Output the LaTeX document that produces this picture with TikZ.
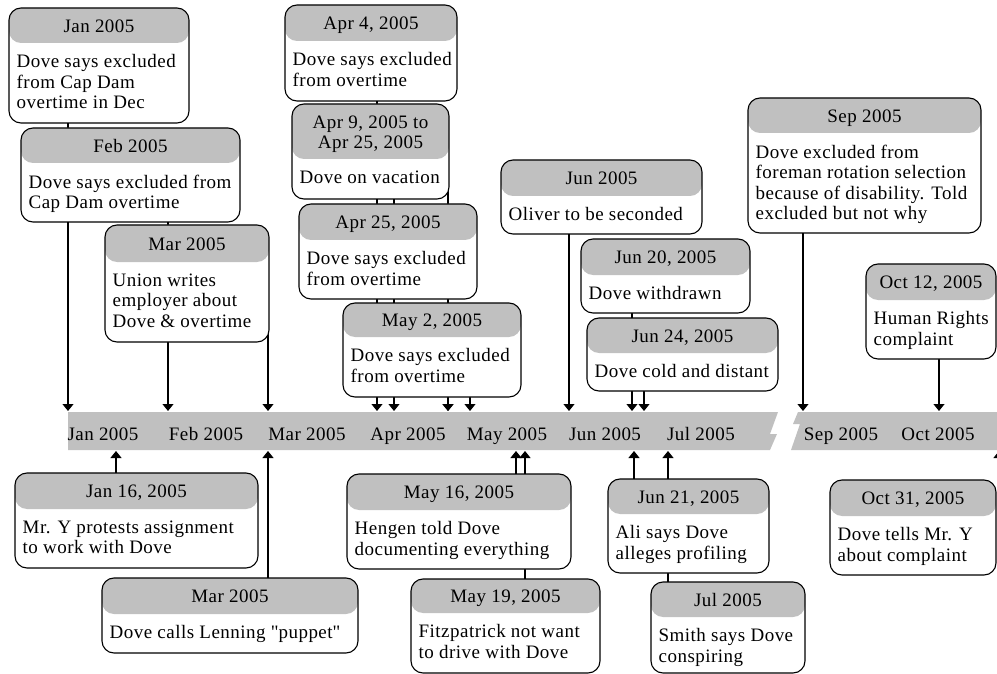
\documentclass[tikz,border=0pt]{standalone}
\usepackage{fontspec}
\setmainfont{Liberation Serif}[LetterSpace=2.5]
\usetikzlibrary{arrows.meta}
\pgfdeclarelayer{bg}
\pgfsetlayers{bg,main}
\definecolor{hdrgray}{RGB}{192,192,192}
\definecolor{bandgray}{RGB}{192,192,192}
\newcommand\strq{\XeTeXglyph\XeTeXcharglyph"22\relax}
\tikzset{
  evb/.style={draw=black, line width=1.1pt, rounded corners=12pt, fill=white, inner sep=0pt},
  ttl/.style={inner sep=0pt, anchor=north, align=center, font=\fontsize{19}{20.5}\selectfont},
  bdy/.style={inner sep=0pt, anchor=north west, align=left, font=\fontsize{19}{20.5}\selectfont},
  axl/.style={inner sep=0pt, anchor=base, font=\fontsize{19}{20.5}\selectfont},
  conn/.style={line width=1.2pt, -{Triangle[width=11pt,length=7pt]}},
}
% name, x1, y1, x2, y2, header bottom, title, body, title shift
\newcommand\evbox[9]{%
  \pgfmathsetmacro\evW{#4-#2}%
  \pgfmathsetmacro\evH{#5-#3}%
  \pgfmathsetmacro\evHH{#6-#3}%
  \pgfmathsetmacro\evCX{(#2+#4)/2}%
  \pgfmathsetmacro\evCY{(#3+#5)/2}%
  \pgfmathsetmacro\evTY{(#3+#6)/2+6.5-12.8+#9}%
  \pgfmathsetmacro\evBY{#6+24.5-13}%
  \pgfmathsetmacro\evBX{#2+7.5}%
  \node[evb, minimum width=\evW pt, minimum height=\evH pt,
    path picture={\fill[hdrgray] (path picture bounding box.north west) rectangle ([yshift=-\evHH pt]path picture bounding box.north east);}]
    (#1) at (\evCX,\evCY) {};
  \node[ttl] (#1-t) at (\evCX,\evTY) {#7};
  \node[bdy] (#1-b) at (\evBX,\evBY) {#8};
}
\begin{document}
\begin{tikzpicture}[x=1pt,y=-1pt]
\useasboundingbox (0,0) rectangle (997,674);

% top boxes
\evbox{jan}{9}{8}{189}{123}{43}{Jan 2005}{Dove says excluded\\from Cap Dam\\overtime in Dec}{0}
\evbox{feb}{21}{128}{240}{222}{163}{Feb 2005}{Dove says excluded from\\Cap Dam overtime}{0}
\evbox{mar}{105}{225}{269}{342}{262}{Mar 2005}{Union writes\\employer about\\Dove \& overtime}{0}
\evbox{apra}{285}{5}{457}{101}{41}{Apr 4, 2005}{Dove says excluded\\from overtime}{0}
\evbox{aprb}{292}{104}{449}{199}{159}{Apr 9, 2005 to\\Apr 25, 2005}{Dove on vacation}{-10}
\evbox{aprc}{299}{204}{477}{299}{240}{Apr 25, 2005}{Dove says excluded\\from overtime}{0}
\evbox{maya}{343}{303}{521}{397}{337}{May 2, 2005}{Dove says excluded\\from overtime}{0}
\evbox{juna}{501}{160}{702}{234}{196}{Jun 2005}{Oliver to be seconded}{0}
\evbox{junb}{581}{239}{750}{313}{275}{Jun 20, 2005}{Dove withdrawn}{0}
\evbox{junc}{587}{318}{778}{391}{353}{Jun 24, 2005}{Dove cold and distant}{0}
\evbox{sep}{748}{98}{981}{233}{133}{Sep 2005}{Dove excluded from\\foreman rotation selection\\because of disability. Told\\excluded but not why}{0}
\evbox{octa}{866}{264}{996}{359}{300}{Oct 12, 2005}{Human Rights\\complaint}{0}

% bottom boxes
\evbox{janb}{15}{473}{258}{568}{509}{Jan 16, 2005}{Mr. Y protests assignment\\to work with Dove}{0}
\evbox{marb}{102}{578}{358}{653}{614}{Mar 2005}{Dove calls Lenning \strq puppet\strq}{0}
\evbox{mayb}{347}{474}{571}{569}{510}{May 16, 2005}{Hengen told Dove\\documenting everything}{0}
\evbox{mayc}{411}{579}{600}{673}{613}{May 19, 2005}{Fitzpatrick not want\\to drive with Dove}{0}
\evbox{jund}{608}{479}{769}{573}{514}{Jun 21, 2005}{Ali says Dove\\alleges profiling}{0}
\evbox{jul}{651}{582}{805}{673}{617}{Jul 2005}{Smith says Dove\\conspiring}{0}
\evbox{octb}{830}{480}{996}{575}{516}{Oct 31, 2005}{Dove tells Mr. Y\\about complaint}{0}

% axis labels
\node[axl] (lJan) at (103,440) {Jan 2005};
\node[axl] (lFeb) at (206,440) {Feb 2005};
\node[axl] (lMar) at (307,440) {Mar 2005};
\node[axl] (lApr) at (408,440) {Apr 2005};
\node[axl] (lMay) at (507,440) {May 2005};
\node[axl] (lJun) at (605,440) {Jun 2005};
\node[axl] (lJul) at (701,440) {Jul 2005};
\node[axl] (lSep) at (841,440) {Sep 2005};
\node[axl] (lOct) at (938,440) {Oct 2005};

% axis attachment points
\foreach \n/\x in {t68/68,t168/168,t268/268,t377/377,t394/394,t448/448,t470/470,t569/569,t632/632,t644/644,t803/803,t939/939}
  \coordinate (\n) at (\x,411);
\foreach \n/\x in {b116/116,b268/268,b516/516,b525/525,b634/634,b668/668,b999/999}
  \coordinate (\n) at (\x,451);

\begin{pgfonlayer}{bg}
  \fill[bandgray] (68,412) -- (778,412) -- (770,434) -- (777,434) -- (770,450) -- (68,450) -- cycle;
  \fill[bandgray] (798,412) -- (997,412) -- (997,450) -- (791,450) -- (800,424) -- (793,424) -- cycle;
  % down connectors
  \draw[conn] (t68 |- jan.center) -- (t68);
  \draw[conn] (t168 |- feb.center) -- (t168);
  \draw[conn] (t268 |- mar.center) -- (t268);
  \draw[conn] (t377 |- apra.center) -- (t377);
  \draw[conn] (t394 |- aprb.center) -- (t394);
  \draw[conn] (t448 |- aprb.center) -- (t448);
  \draw[conn] (t448 |- aprc.center) -- (t448);
  \draw[conn] (t470 |- maya.center) -- (t470);
  \draw[conn] (t569 |- juna.center) -- (t569);
  \draw[conn] (t632 |- junb.center) -- (t632);
  \draw[conn] (t644 |- junc.center) -- (t644);
  \draw[conn] (t803 |- sep.center) -- (t803);
  \draw[conn] (t939 |- octa.center) -- (t939);
  % up connectors
  \draw[conn] (b116 |- janb.center) -- (b116);
  \draw[conn] (b268 |- marb.center) -- (b268);
  \draw[conn] (b516 |- mayb.center) -- (b516);
  \draw[conn] (b525 |- mayc.center) -- (b525);
  \draw[conn] (b634 |- jund.center) -- (b634);
  \draw[conn] (b668 |- jul.center) -- (b668);
  \draw[conn] (b999 |- octb.center) -- (b999);
\end{pgfonlayer}
\end{tikzpicture}
\end{document}
